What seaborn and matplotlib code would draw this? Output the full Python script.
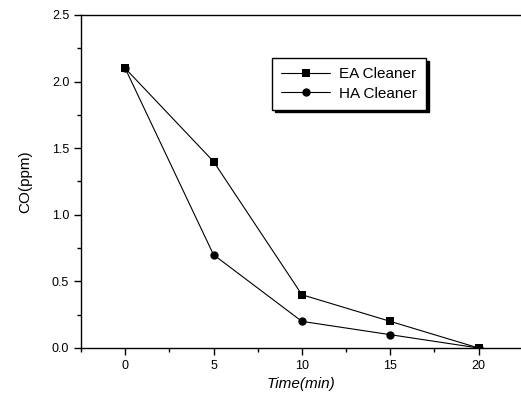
import matplotlib
matplotlib.use("Agg")
import matplotlib.pyplot as plt
import seaborn as sns
import pandas as pd
from matplotlib.ticker import MultipleLocator

time_min = [0, 5, 10, 15, 20]
ea_cleaner = [2.1, 1.4, 0.4, 0.2, 0.0]
ha_cleaner = [2.1, 0.7, 0.2, 0.1, 0.0]
series_names = ["EA Cleaner", "HA Cleaner"]

df = pd.DataFrame({
    "Time": time_min * 2,
    "CO": ea_cleaner + ha_cleaner,
    "Series": [series_names[0]] * len(time_min) + [series_names[1]] * len(time_min),
})

sns.set_style("ticks")
plt.rcParams['font.family'] = ['Liberation Sans', 'DejaVu Sans']
plt.rcParams['text.color'] = 'black'
plt.rcParams['axes.labelcolor'] = 'black'
plt.rcParams['xtick.color'] = 'black'
plt.rcParams['ytick.color'] = 'black'

fig = plt.figure(figsize=(5.21, 3.98), dpi=100)
ax = fig.add_axes([81/521, 1 - 348/398, 1 - 81/521, (348 - 15)/398])

sns.lineplot(data=df, x="Time", y="CO", hue="Series", style="Series",
             markers={"EA Cleaner": "s", "HA Cleaner": "o"}, dashes=False,
             palette={"EA Cleaner": "black", "HA Cleaner": "black"},
             linewidth=0.8, markersize=6, markeredgewidth=0, ax=ax)

ax.set_xlim(-2.5, 22.4)
ax.set_ylim(0, 2.5)
ax.xaxis.set_major_locator(MultipleLocator(5))
ax.xaxis.set_minor_locator(MultipleLocator(2.5))
ax.yaxis.set_major_locator(MultipleLocator(0.5))
ax.yaxis.set_minor_locator(MultipleLocator(0.25))
ax.tick_params(which='major', direction='out', length=5, width=1, labelsize=9, colors='black')
ax.tick_params(which='minor', direction='out', length=3, width=1)
ax.yaxis.set_major_formatter(matplotlib.ticker.FormatStrFormatter('%.1f'))

for s in ['left', 'bottom', 'top']:
    ax.spines[s].set_color('black')
    ax.spines[s].set_linewidth(1)
ax.spines['right'].set_visible(False)

ax.set_xlabel("Time(min)", fontsize=11, style='italic')
ax.set_ylabel("CO(ppm)", fontsize=11, labelpad=14)

leg = ax.legend(loc='upper left', bbox_to_anchor=((272-81)/440, 1 - (58-15)/333),
                frameon=True, fancybox=False, shadow={'color': 'black', 'alpha': 1},
                fontsize=11, handlelength=3.2, handletextpad=0.6, borderpad=0.6,
                labelspacing=0.35, borderaxespad=0, title=None)
leg.get_frame().set_edgecolor('black')
leg.get_frame().set_linewidth(1)
leg.get_frame().set_alpha(1)

fig.savefig("out.png", dpi=100)
